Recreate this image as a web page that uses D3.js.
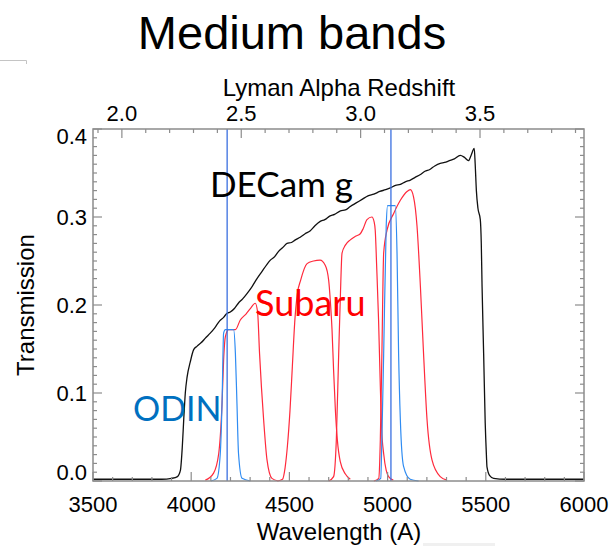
<!DOCTYPE html>
<html lang="en">
<head>
<meta charset="UTF-8">
<title>Medium bands</title>
<script src="https://cdn.jsdelivr.net/npm/d3@7"></script>
<style>
  html, body { margin: 0; padding: 0; background: #fff; }
  svg { display: block; font-family: "Liberation Sans", Arial, Helvetica, sans-serif; }
  .label { font-family: Lato, "Open Sans", sans-serif; }
</style>
</head>
<body>
<div id="chart"></div>
<script>
// ---- data (wavelength in Angstrom, transmission) ----
var decamG = [
  [3500,0.002],[3700,0.002],[3850,0.002],[3900,0.003],[3930,0.005],[3945,0.012],[3955,0.04],
  [3962,0.07],[3970,0.1],[3979,0.118],[3995,0.135],[4012,0.149],[4029,0.153],[4050,0.157],
  [4075,0.163],[4097,0.168],[4120,0.174],[4145,0.182],[4165,0.186],[4180,0.19],[4199,0.192],
  [4220,0.196],[4240,0.202],[4262,0.207],[4284,0.213],[4310,0.221],[4335,0.23],[4360,0.238],
  [4385,0.246],[4403,0.251],[4425,0.255],[4445,0.261],[4465,0.265],[4488,0.27],[4510,0.271],
  [4530,0.274],[4555,0.277],[4580,0.281],[4605,0.284],[4630,0.29],[4657,0.295],[4680,0.297],
  [4705,0.301],[4730,0.303],[4760,0.307],[4785,0.308],[4810,0.312],[4840,0.316],[4870,0.32],
  [4900,0.324],[4930,0.326],[4960,0.329],[4990,0.331],[5014,0.333],[5040,0.336],[5065,0.337],
  [5090,0.34],[5116,0.342],[5140,0.345],[5165,0.348],[5190,0.352],[5215,0.354],[5240,0.358],
  [5268,0.361],[5290,0.362],[5315,0.364],[5340,0.366],[5370,0.37],[5390,0.368],[5412,0.364],
  [5425,0.37],[5441,0.378],[5446,0.36],[5452,0.33],[5460,0.31],[5472,0.297],[5477,0.27],
  [5481,0.221],[5489,0.145],[5497,0.066],[5503,0.03],[5506,0.016],[5520,0.006],[5540,0.003],
  [5600,0.002],[6000,0.002]
];

var subaruIA427 = [
  [4072,0.001],[4114,0.009],[4140,0.031],[4157,0.088],[4165,0.137],[4174,0.164],[4190,0.172],
  [4225,0.172],[4250,0.183],[4280,0.19],[4301,0.196],[4326,0.202],[4338,0.192],[4348,0.145],
  [4369,0.069],[4386,0.024],[4411,0.003],[4443,0.0]
];
var subaruIA464 = [
  [4440,0.0],[4465,0.002],[4478,0.015],[4490,0.04],[4503,0.08],[4515,0.13],[4527,0.18],
  [4540,0.212],[4557,0.228],[4590,0.247],[4623,0.25],[4656,0.251],[4683,0.245],[4700,0.228],
  [4708,0.206],[4717,0.172],[4725,0.126],[4734,0.081],[4744,0.047],[4759,0.022],[4785,0.008],
  [4810,0.002]
];
var subaruIA484 = [
  [4700,0.0],[4725,0.005],[4739,0.047],[4751,0.145],[4759,0.206],[4768,0.259],[4785,0.268],
  [4810,0.274],[4836,0.278],[4861,0.281],[4876,0.287],[4895,0.297],[4920,0.3],[4932,0.294],
  [4937,0.285],[4945,0.24],[4954,0.183],[4963,0.107],[4970,0.058],[4980,0.031],[4993,0.012],
  [5005,0.005],[5029,0.001]
];
var subaruIA505 = [
  [4930,0.0],[4955,0.003],[4963,0.047],[4971,0.145],[4980,0.259],[4997,0.285],[5031,0.304],
  [5065,0.319],[5099,0.329],[5116,0.331],[5132,0.323],[5150,0.289],[5167,0.221],[5183,0.145],
  [5201,0.069],[5226,0.024],[5268,0.005],[5302,0.001]
];

var odinN419 = [
  [4100,0.0],[4131,0.003],[4148,0.031],[4157,0.088],[4165,0.168],[4174,0.172],[4194,0.172],
  [4216,0.172],[4225,0.145],[4233,0.088],[4241,0.031],[4259,0.003],[4301,0.0]
];
var odinN501 = [
  [4940,0.0],[4965,0.003],[4972,0.06],[4980,0.145],[4993,0.29],[5000,0.313],[5039,0.313],
  [5048,0.259],[5056,0.145],[5065,0.069],[5081,0.017],[5115,0.002],[5158,0.0]
];
var odinCentres = [4183, 5017];

var wavelengthTicks = [3500, 4000, 4500, 5000, 5500, 6000];
var transTicks = [0.0, 0.1, 0.2, 0.3, 0.4];
var redshiftTicks = [2.0, 2.5, 3.0, 3.5];
var lymanAlpha = 1215.67;

// ---- layout ----
var width = 610, height = 546;
var plot = {left: 93, right: 584, top: 129, bottom: 481};
var axisColor = "#8c8c8c";

var svg = d3.select("#chart").append("svg")
  .attr("width", width)
  .attr("height", height);

var x = d3.scaleLinear().domain([3500, 6000]).range([plot.left, plot.right]);
var y = d3.scaleLinear().domain([0, 0.4]).range([plot.bottom, plot.top]);

var line = d3.line()
  .x(function(d) { return x(d[0]); })
  .y(function(d) { return y(d[1]); })
  .curve(d3.curveMonotoneX);

// title + stray marks from the slide
svg.append("text")
  .attr("x", 292).attr("y", 49)
  .attr("text-anchor", "middle")
  .attr("font-size", "47px")
  .text("Medium bands");
svg.append("path")
  .attr("d", "M0,60.5H26.5V64")
  .attr("fill", "none").attr("stroke", "#c4c4c4").attr("stroke-width", 1);
svg.append("rect")
  .attr("x", 423).attr("y", 543).attr("width", 72).attr("height", 3)
  .attr("fill", "#f0f0f0");

// ---- curves ----
var g = svg.append("g");
g.append("path").datum(decamG)
  .attr("d", line).attr("fill", "none").attr("stroke", "#111").attr("stroke-width", 1.3);

[subaruIA427, subaruIA464, subaruIA484, subaruIA505].forEach(function(f) {
  g.append("path").datum(f)
    .attr("d", line).attr("fill", "none").attr("stroke", "#ff2a3c").attr("stroke-width", 1.2);
});
[odinN419, odinN501].forEach(function(f) {
  g.append("path").datum(f)
    .attr("d", line).attr("fill", "none").attr("stroke", "#2f8cf2").attr("stroke-width", 1.2);
});
g.selectAll(".centre").data(odinCentres).enter().append("line")
  .attr("class", "centre")
  .attr("x1", function(d) { return x(d); }).attr("x2", function(d) { return x(d); })
  .attr("y1", plot.top).attr("y2", plot.bottom)
  .attr("stroke", "#3a6fe0").attr("stroke-width", 1.3);

// ---- frame + ticks ----
svg.append("rect")
  .attr("x", plot.left).attr("y", plot.top)
  .attr("width", plot.right - plot.left).attr("height", plot.bottom - plot.top)
  .attr("fill", "none").attr("stroke", axisColor).attr("stroke-width", 1.5);

var ticks = svg.append("g").attr("stroke", axisColor).attr("stroke-width", 1.2);
var major = 9, minor = 4;

// bottom (wavelength)
d3.range(3500, 6001, 100).forEach(function(v) {
  var len = v % 500 === 0 ? major : minor;
  ticks.append("line").attr("x1", x(v)).attr("x2", x(v))
    .attr("y1", plot.bottom).attr("y2", plot.bottom - len);
});
svg.selectAll(".xlab").data(wavelengthTicks).enter().append("text")
  .attr("class", "xlab")
  .attr("x", function(d) { return x(d); }).attr("y", plot.bottom + 31)
  .attr("text-anchor", "middle").attr("font-size", "22px")
  .text(function(d) { return d; });

// left + right (transmission)
d3.range(0, 41).forEach(function(i) {
  var v = i / 100, len = i % 10 === 0 ? major : minor;
  ticks.append("line").attr("x1", plot.left).attr("x2", plot.left + len)
    .attr("y1", y(v)).attr("y2", y(v));
  ticks.append("line").attr("x1", plot.right).attr("x2", plot.right - len)
    .attr("y1", y(v)).attr("y2", y(v));
});
svg.selectAll(".ylab").data(transTicks).enter().append("text")
  .attr("class", "ylab")
  .attr("x", plot.left - 6)
  .attr("y", function(d, i) {
    var nudge = i === 0 ? -9 : (i === transTicks.length - 1 ? 7 : 0);
    return y(d) + 8 + nudge;
  })
  .attr("text-anchor", "end").attr("font-size", "22px")
  .text(function(d) { return d3.format(".1f")(d); });

// top (Lyman alpha redshift)
d3.range(19, 40).forEach(function(i) {
  var z = i / 10, len = i % 5 === 0 ? major : minor;
  var px = x(lymanAlpha * (1 + z));
  ticks.append("line").attr("x1", px).attr("x2", px)
    .attr("y1", plot.top).attr("y2", plot.top + len);
});
svg.selectAll(".zlab").data(redshiftTicks).enter().append("text")
  .attr("class", "zlab")
  .attr("x", function(d) { return x(lymanAlpha * (1 + d)); }).attr("y", plot.top - 8)
  .attr("text-anchor", "middle").attr("font-size", "22px")
  .text(function(d) { return d3.format(".1f")(d); });

// axis titles
svg.append("text")
  .attr("x", 339).attr("y", 96)
  .attr("text-anchor", "middle").attr("font-size", "24px")
  .text("Lyman Alpha Redshift");
svg.append("text")
  .attr("x", 339).attr("y", 540)
  .attr("text-anchor", "middle").attr("font-size", "24px")
  .text("Wavelength (A)");
svg.append("text")
  .attr("transform", "translate(34,305) rotate(-90)")
  .attr("text-anchor", "middle").attr("font-size", "24px")
  .text("Transmission");

// in-plot labels
svg.append("text").attr("class", "label")
  .attr("x", 210).attr("y", 197).attr("font-size", "35px").attr("fill", "#000")
  .text("DECam g");
svg.append("text").attr("class", "label")
  .attr("x", 255).attr("y", 316).attr("font-size", "36px").attr("fill", "#ff0000")
  .text("Subaru");
svg.append("text").attr("class", "label")
  .attr("x", 133).attr("y", 421).attr("font-size", "34px").attr("fill", "#0070c0")
  .text("ODIN");
</script>
</body>
</html>
